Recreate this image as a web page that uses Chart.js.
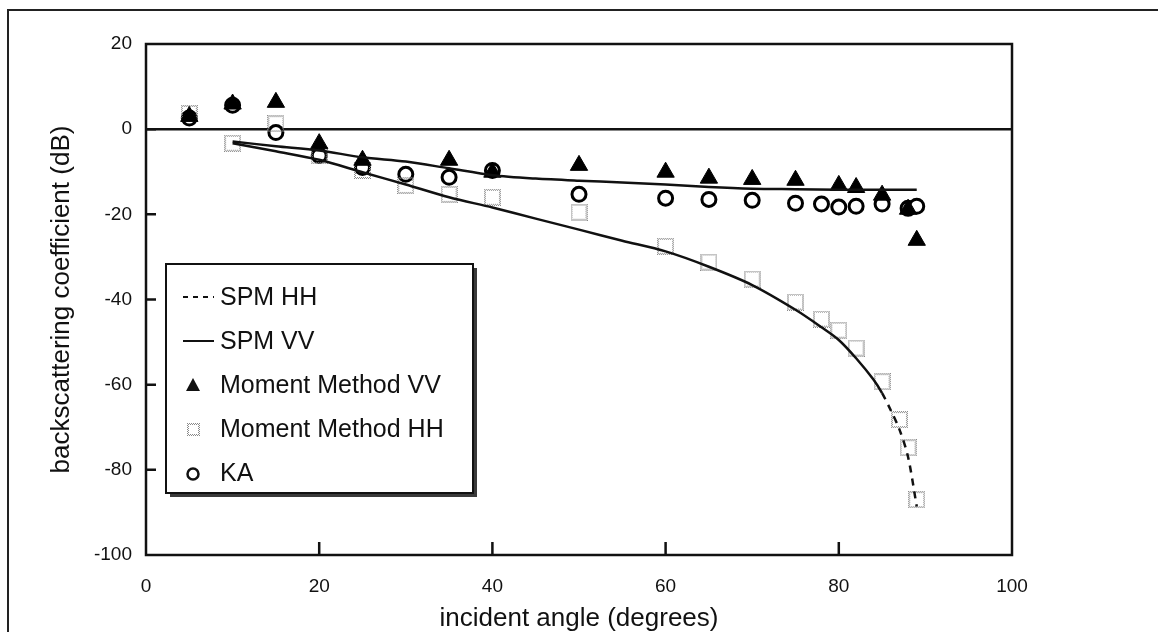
<!DOCTYPE html>
<html>
<head>
<meta charset="utf-8">
<script src="https://cdn.jsdelivr.net/npm/chart.js@4.4.1/dist/chart.umd.min.js"></script>
<style>
  html, body { margin: 0; padding: 0; background: #fff; }
  #wrap { position: relative; width: 1158px; height: 632px; overflow: hidden; }
  #wrap canvas { position: absolute; left: 0; top: 0; }
  #frame {
    position: absolute; left: 7px; top: 9px; width: 1200px; height: 700px;
    border-top: 2px solid #222; border-left: 2px solid #222; pointer-events: none;
  }
</style>
</head>
<body>
<div id="wrap">
  <canvas id="chart" width="1158" height="632"></canvas>
  <div id="frame"></div>
</div>
<script>
// incident angle (deg) / backscattering coefficient (dB)
const spmHHAngles = [10, 15, 20, 25, 30, 35, 40, 45, 50, 55, 60, 65, 70, 75, 78, 80, 82, 84, 85, 86, 87, 88, 89];
const spmHH = [-3.3, -5.2, -7.2, -10.1, -13.0, -16.0, -18.4, -21.0, -23.6, -26.2, -28.7, -32.3, -36.6, -42.4, -46.5, -49.5, -53.8, -58.8, -62.0, -66.0, -70.5, -77.0, -88.6];

const spmVVAngles = [10, 15, 20, 25, 30, 35, 40, 45, 50, 55, 60, 65, 70, 75, 80, 85, 89];
const spmVV = [-2.9, -4.0, -5.0, -6.6, -7.6, -9.2, -10.8, -11.6, -12.1, -12.5, -13.0, -13.6, -14.0, -14.1, -14.2, -14.2, -14.2];

const mmVVAngles = [5, 10, 15, 20, 25, 35, 40, 50, 60, 65, 70, 75, 80, 82, 85, 88, 89];
const mmVV = [3.0, 5.9, 6.3, -3.4, -7.3, -7.3, -10.1, -8.5, -10.1, -11.5, -11.8, -12.0, -13.2, -13.7, -15.5, -18.8, -26.1];

const mmHHAngles = [5, 10, 15, 20, 25, 30, 35, 40, 50, 60, 65, 70, 75, 78, 80, 82, 85, 87, 88, 89];
const mmHH = [3.7, -3.3, 1.3, -6.2, -9.7, -13.2, -15.3, -16.0, -19.5, -27.5, -31.2, -35.2, -40.6, -44.6, -47.2, -51.4, -59.3, -68.2, -74.8, -87.0];

const kaAngles = [5, 10, 15, 20, 25, 30, 35, 40, 50, 60, 65, 70, 75, 78, 80, 82, 85, 88, 89];
const ka = [2.6, 5.6, -0.8, -6.2, -9.0, -10.6, -11.3, -9.7, -15.3, -16.2, -16.5, -16.7, -17.4, -17.6, -18.3, -18.1, -17.6, -18.6, -18.1];

const xTicks = [0, 20, 40, 60, 80, 100];
const yTicks = [20, 0, -20, -40, -60, -80, -100];

const ink = '#111';
const fontFamily = '"Liberation Sans", Arial, Helvetica, sans-serif';

function pairs(xs, ys) {
  return xs.map((x, i) => ({ x: x, y: ys[i] }));
}

// dotted grey square marker
function dottedSquare(size, color) {
  const c = document.createElement('canvas');
  c.width = size;
  c.height = size;
  const g = c.getContext('2d');
  g.fillStyle = color;
  for (let i = 0; i < size; i++) {
    const on = i % 2;
    g.fillRect(i, on, 1, 1);
    g.fillRect(i, size - 1 - on, 1, 1);
    g.fillRect(on, i, 1, 1);
    g.fillRect(size - 1 - on, i, 1, 1);
  }
  return c;
}

const squareMark = dottedSquare(17, '#8a8a8a');
const squareLegend = dottedSquare(13, '#8a8a8a');

// frame, zero line and inward tick marks
const axisFrame = {
  id: 'axisFrame',
  afterDraw(chart) {
    const { ctx, chartArea: a, scales } = chart;
    ctx.save();
    ctx.strokeStyle = ink;
    ctx.lineWidth = 2.5;
    ctx.strokeRect(a.left, a.top, a.right - a.left, a.bottom - a.top);
    ctx.beginPath();
    scales.y.ticks.forEach(t => {
      if (t.value === 20 || t.value === -100) return;
      const py = scales.y.getPixelForValue(t.value);
      ctx.moveTo(a.left, py);
      ctx.lineTo(a.left + 10, py);
    });
    scales.x.ticks.forEach(t => {
      if (t.value === 0 || t.value === 100) return;
      const px = scales.x.getPixelForValue(t.value);
      ctx.moveTo(px, a.bottom);
      ctx.lineTo(px, a.bottom - 13);
    });
    ctx.stroke();
    ctx.restore();
  }
};

// boxed legend with drop shadow
const boxLegend = {
  id: 'boxLegend',
  afterDraw(chart) {
    const { ctx, chartArea: a } = chart;
    const left = a.left + 20, top = a.top + 220, w = 307, h = 229;
    ctx.save();
    ctx.fillStyle = '#3a3a3a';
    ctx.fillRect(left + 4, top + 4, w, h);
    ctx.fillStyle = '#fff';
    ctx.fillRect(left, top, w, h);
    ctx.strokeStyle = ink;
    ctx.lineWidth = 2;
    ctx.strokeRect(left, top, w, h);

    ctx.font = '25px ' + fontFamily;
    ctx.textBaseline = 'middle';
    chart.data.datasets.forEach((ds, i) => {
      const cy = top + 33 + i * 44;
      const mx = left + 27;
      ctx.fillStyle = ink;
      ctx.strokeStyle = ink;
      if (ds.pointRadius === 0) {
        ctx.lineWidth = 2;
        ctx.setLineDash(ds.legendDash || []);
        ctx.beginPath();
        ctx.moveTo(left + 17, cy);
        ctx.lineTo(left + 48, cy);
        ctx.stroke();
        ctx.setLineDash([]);
      } else if (ds.pointStyle === 'triangle') {
        ctx.beginPath();
        ctx.moveTo(mx, cy - 7);
        ctx.lineTo(mx + 7, cy + 6);
        ctx.lineTo(mx - 7, cy + 6);
        ctx.closePath();
        ctx.fill();
      } else if (ds.pointStyle === 'circle') {
        ctx.lineWidth = 2.5;
        ctx.beginPath();
        ctx.arc(mx, cy + 1, 5.5, 0, Math.PI * 2);
        ctx.stroke();
      } else {
        ctx.drawImage(squareLegend, mx - 6, cy - 6);
      }
      ctx.fillStyle = ink;
      ctx.fillText(ds.label, left + 54, cy + 1);
    });
    ctx.restore();
  }
};

new Chart(document.getElementById('chart'), {
  type: 'scatter',
  data: {
    datasets: [{
      label: 'SPM HH',
      data: pairs(spmHHAngles, spmHH),
      showLine: true,
      borderColor: ink,
      borderWidth: 2.5,
      pointRadius: 0,
      tension: 0.3,
      legendDash: [5, 5],
      segment: {
        borderDash: c => c.p0.parsed.x >= 85 ? [7, 6] : undefined
      }
    }, {
      label: 'SPM VV',
      data: pairs(spmVVAngles, spmVV),
      showLine: true,
      borderColor: ink,
      borderWidth: 2.5,
      pointRadius: 0,
      tension: 0.3
    }, {
      label: 'Moment Method VV',
      data: pairs(mmVVAngles, mmVV),
      pointStyle: 'triangle',
      pointRadius: 10,
      backgroundColor: '#000',
      borderColor: '#000',
      borderWidth: 1
    }, {
      label: 'Moment Method HH',
      data: pairs(mmHHAngles, mmHH),
      pointStyle: squareMark,
      pointRadius: 9
    }, {
      label: 'KA',
      data: pairs(kaAngles, ka),
      pointStyle: 'circle',
      pointRadius: 7,
      backgroundColor: '#fff',
      borderColor: '#000',
      borderWidth: 3
    }]
  },
  options: {
    responsive: false,
    animation: false,
    events: [],
    layout: { padding: { left: 0, right: 146, top: 44, bottom: 0 } },
    plugins: {
      legend: { display: false },
      tooltip: { enabled: false }
    },
    scales: {
      x: {
        type: 'linear',
        min: 0,
        max: 100,
        afterBuildTicks: s => { s.ticks = xTicks.map(v => ({ value: v })); },
        afterFit: s => { s.height = 77; },
        grid: { display: false, drawTicks: false },
        border: { display: false },
        ticks: {
          padding: 20,
          color: ink,
          font: { family: fontFamily, size: 19 }
        },
        title: {
          display: true,
          text: 'incident angle (degrees)',
          color: ink,
          font: { family: fontFamily, size: 26, lineHeight: 1 },
          padding: 0
        }
      },
      y: {
        type: 'linear',
        min: -100,
        max: 20,
        afterBuildTicks: s => { s.ticks = yTicks.map(v => ({ value: v })); },
        afterFit: s => { s.width = 146; },
        grid: {
          drawTicks: false,
          lineWidth: 2.5,
          color: c => c.tick && c.tick.value === 0 ? ink : 'rgba(0,0,0,0)'
        },
        border: { display: false },
        ticks: {
          padding: 14,
          color: ink,
          font: { family: fontFamily, size: 19 }
        },
        title: {
          display: true,
          text: 'backscattering coefficient (dB)',
          color: ink,
          font: { family: fontFamily, size: 26, lineHeight: 1 },
          padding: { top: 49, bottom: 0 }
        }
      }
    }
  },
  plugins: [axisFrame, boxLegend]
});
</script>
</body>
</html>
